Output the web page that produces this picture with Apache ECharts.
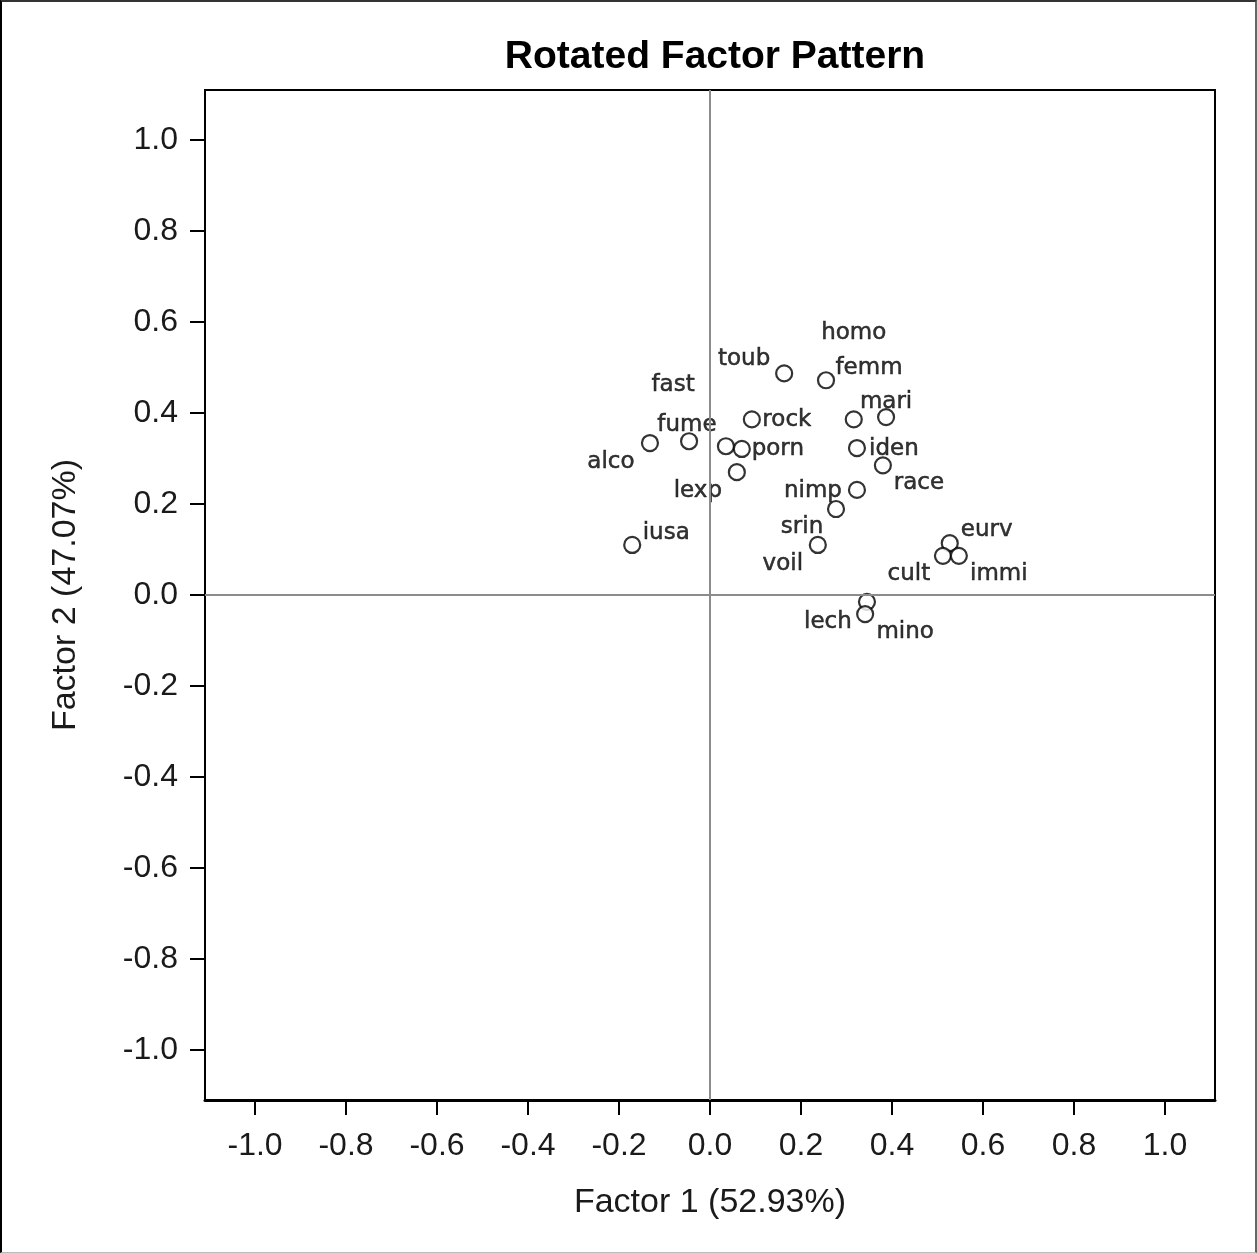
<!DOCTYPE html>
<html>
<head>
<meta charset="utf-8">
<title>Rotated Factor Pattern</title>
<script src="https://cdn.jsdelivr.net/npm/echarts@6/dist/echarts.min.js"></script>
<style>
  html, body { margin: 0; padding: 0; background: #fff; }
  #frame {
    width: 1257px; height: 1253px; box-sizing: border-box;
    border-left: 2px solid #000; border-top: 2px solid #333;
    border-right: 2px solid #666; border-bottom: 1px solid #bbb;
    position: relative;
  }
  #chart { position: absolute; left: -2px; top: -2px; width: 1257px; height: 1253px; }
</style>
</head>
<body>
<div id="frame"><div id="chart"></div></div>
<script>
// Variables and their rotated loadings on the two factors
const variables = ['iusa', 'alco', 'fast', 'fume', 'porn', 'rock', 'lexp', 'toub', 'femm', 'homo', 'mari',
                   'iden', 'race', 'nimp', 'srin', 'voil', 'eurv', 'cult', 'immi', 'lech', 'mino'];
const factor1 = [-0.171, -0.132, -0.046, 0.035, 0.070, 0.092, 0.059, 0.163, 0.255, 0.316, 0.387,
                 0.323, 0.380, 0.323, 0.277, 0.237, 0.527, 0.512, 0.547, 0.345, 0.341];
const factor2 = [0.110, 0.334, 0.338, 0.327, 0.321, 0.386, 0.270, 0.487, 0.472, 0.386, 0.391,
                 0.323, 0.285, 0.231, 0.189, 0.110, 0.114, 0.086, 0.086, -0.015, -0.042];
const tickValues = [-1.0, -0.8, -0.6, -0.4, -0.2, 0.0, 0.2, 0.4, 0.6, 0.8, 1.0];
const axisTitles = { x: 'Factor 1 (52.93%)', y: 'Factor 2 (47.07%)' };

// Where each point's name sits relative to its marker (pixel offsets)
const labelOffsets = [[34, -12], [-39, 19], [-16, -56], [-39, -21], [36, 0], [35, 1], [-39, 19],
                      [-40, -14], [43, -12], [0, -86], [0, -15], [37, 1], [36, 18], [-44, 1],
                      [-34, 18], [-35, 19], [37, -13], [-34, 18], [40, 18], [-39, 20], [40, 18]];

const points = variables.map((name, i) => ({
  name: name,
  value: [factor1[i], factor2[i]],
  label: { offset: labelOffsets[i] }
}));

const tickFont = { fontFamily: 'Liberation Sans, Arial, sans-serif', fontSize: 32, color: '#1a1a1a' };

function valueAxis(isX) {
  return {
    type: 'value',
    min: -1.11, max: 1.11,
    name: isX ? axisTitles.x : axisTitles.y,
    nameLocation: 'middle',
    nameGap: isX ? 86 : 122,
    nameTextStyle: { fontFamily: 'Liberation Sans, Arial, sans-serif', fontSize: 34, color: '#1a1a1a' },
    axisLine: { show: true, onZero: false, lineStyle: { color: '#000', width: isX ? 3 : 2 } },
    axisTick: { show: true, length: 15, customValues: tickValues, lineStyle: { color: '#000', width: 2 } },
    axisLabel: Object.assign({
      margin: isX ? 30 : 27,
      customValues: tickValues,
      formatter: v => v.toFixed(1)
    }, tickFont),
    splitLine: { show: false }
  };
}

const chart = echarts.init(document.getElementById('chart'), null, { renderer: 'canvas' });
chart.setOption({
  backgroundColor: 'transparent',
  animation: false,
  title: {
    text: 'Rotated Factor Pattern',
    left: 710, top: 33, textAlign: 'center',
    textStyle: { fontFamily: 'Liberation Sans, Arial, sans-serif', fontSize: 39, fontWeight: 'bold', color: '#000' }
  },
  grid: { left: 205, top: 90, width: 1010, height: 1010, show: true, borderColor: '#000', borderWidth: 2, backgroundColor: '#fff' },
  xAxis: valueAxis(true),
  yAxis: valueAxis(false),
  series: [{
    type: 'scatter',
    data: points,
    symbol: 'circle',
    symbolSize: 16,
    itemStyle: { color: '#fff', borderColor: '#000', borderWidth: 2.2 },
    label: {
      show: true,
      position: 'inside',
      formatter: p => p.name,
      align: 'center',
      verticalAlign: 'middle',
      fontFamily: 'DejaVu Sans, sans-serif',
      fontSize: 23,
      color: '#000',
      textBorderColor: '#000',
      textBorderWidth: 0.5
    },
    markLine: {
      silent: true,
      symbol: 'none',
      label: { show: false },
      lineStyle: { color: '#8c8c8c', width: 2, type: 'solid' },
      data: [{ xAxis: 0 }, { yAxis: 0 }]
    },
    z: 3
  }]
});
</script>
</body>
</html>
